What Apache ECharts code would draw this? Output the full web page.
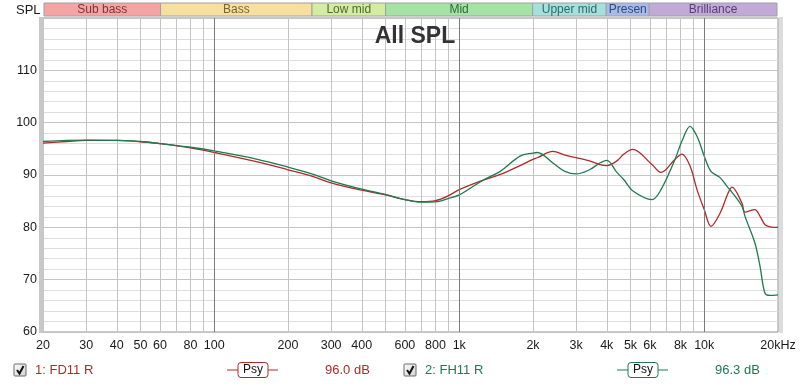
<!DOCTYPE html>
<html><head><meta charset="utf-8">
<script src="https://cdn.jsdelivr.net/npm/echarts@6/dist/echarts.min.js"></script>
<style>html,body{margin:0;padding:0;background:#fff}#c{width:800px;height:384px}</style>
</head><body><div id="c"></div>
<script>
// ---- data ----
const freqs = [20,25,30,40,50,60,80,100,150,200,250,300,400,500,600,700,800,900,1000,1250,1470,1770,2000,2080,2410,2700,3000,3400,3750,4000,4400,4700,5100,6120,6660,7600,8110,8750,9340,10000,10650,11600,12500,12980,14260,14670,16100,16900,17700,18540,20000];
const fd11 = [96.1,96.4,96.6,96.6,96.35,96.0,95.2,94.3,92.5,91.0,89.8,88.5,87.1,86.2,85.3,84.9,85.1,86.0,87.2,89.0,90.1,91.8,93.0,93.3,94.5,93.8,93.3,92.7,92.0,91.8,92.7,94.0,94.9,92.0,90.5,93.0,94.0,91.7,87.2,83.4,80.2,82.7,86.5,87.7,84.6,82.9,83.4,82.1,80.5,80.1,80.0];
const fh11 = [96.4,96.6,96.65,96.6,96.4,96.0,95.3,94.6,93.0,91.5,90.2,88.9,87.3,86.3,85.3,84.8,84.85,85.5,86.2,89.0,90.7,93.6,94.2,94.3,92.3,90.7,90.2,91.0,92.3,92.8,90.5,89.1,87.0,85.3,87.2,93.0,96.5,99.3,97.4,93.6,90.7,89.5,87.6,86.7,84.0,82.1,77.0,72.5,67.4,67.0,67.1];
const xLabelFreqs = [20,30,40,50,60,80,100,200,300,400,600,800,1000,2000,3000,4000,5000,6000,8000,10000,20000];
const xLabelTexts = ['20','30','40','50','60','80','100','200','300','400','600','800','1k','2k','3k','4k','5k','6k','8k','10k','20kHz'];
const xGridFreqs = [20,30,40,50,60,70,80,90,100,200,300,400,500,600,700,800,900,1000,2000,3000,4000,5000,6000,7000,8000,9000,10000,20000];
const majorGridFreqs = [100,1000,10000];
const bandNames = ['Sub bass','Bass','Low mid','Mid','Upper mid','Presen','Brilliance'];
const bandEdges = [20,60,250,500,2000,4000,6000,20000];
const yMin = 60, yMax = 120, yStep = 10;
const seriesNames = ['1: FD11 R','2: FH11 R'];
const seriesLevels = ['96.0 dB','96.3 dB'];

// ---- styles ----
const bandFills = ['#f7a3a3','#f7dfa0','#d3eca2','#a5e2a5','#a5e0dc','#a8bbe8','#c2aad6'];
const bandTextColors = ['#7a3434','#7a6430','#4e6a2e','#2e6a3a','#2e6a68','#33497e','#56407a'];
const redC = '#b02a2a', greenC = '#1f7a4f';
const FONT = '"Liberation Sans", Arial, sans-serif';

const L = Math.log10;
const toPts = arr => freqs.map((f, i) => [L(f), arr[i]]);

function xFmt(v) {
  for (let i = 0; i < xLabelFreqs.length; i++) if (Math.abs(L(xLabelFreqs[i]) - v) < 1e-6) return xLabelTexts[i];
  return '';
}

const chart = echarts.init(document.getElementById('c'), null, {renderer: 'canvas'});

const bandData = bandNames.map((n, i) => [L(bandEdges[i]), L(bandEdges[i + 1]), i]);

function legendItem(x0, idx, color) {
  const y = 370;
  return [
    {type: 'rect', shape: {x: x0, y: y - 6, width: 12, height: 12, r: 1},
     style: {fill: new echarts.graphic.LinearGradient(0, 0, 1, 1, [{offset: 0, color: '#ffffff'}, {offset: 1, color: '#d0d0d0'}]), stroke: '#6a6a6a', lineWidth: 1}},
    {type: 'polyline', shape: {points: [[x0 + 3, y], [x0 + 5.5, y + 3.5], [x0 + 9.5, y - 4]]},
     style: {stroke: '#111', lineWidth: 2, fill: null}},
    {type: 'text', x: x0 + 21, y: y, style: {text: seriesNames[idx], fill: color, font: '13px ' + FONT, verticalAlign: 'middle'}},
  ];
}
function psyItem(x0, idx, color, lvlX) {
  const y = 370;
  return [
    {type: 'line', shape: {x1: x0, y1: y, x2: x0 + 51, y2: y}, style: {stroke: color, lineWidth: 1}},
    {type: 'rect', shape: {x: x0 + 11, y: y - 7.5, width: 30, height: 15, r: 3}, style: {fill: '#fff', stroke: color, lineWidth: 1}},
    {type: 'text', x: x0 + 26, y: y, style: {text: 'Psy', fill: '#111', font: '12px ' + FONT, align: 'center', verticalAlign: 'middle'}},
    {type: 'text', x: lvlX, y: y, style: {text: seriesLevels[idx], fill: color, font: '13px ' + FONT, verticalAlign: 'middle'}},
  ];
}

const option = {
  backgroundColor: '#ffffff',
  animation: false,
  title: {
    text: 'All SPL', left: 410, top: 20, textAlign: 'center',
    textStyle: {fontFamily: FONT, fontSize: 23, fontWeight: 'bold', color: '#333'}
  },
  grid: [
    {left: 43, right: 22, top: 18, bottom: 52, show: true, backgroundColor: '#fff', borderColor: '#909090', borderWidth: 1},
    {left: 44, right: 23, top: 3, height: 13, show: false}
  ],
  xAxis: [
    {
      type: 'value', gridIndex: 0, min: L(20), max: L(20000),
      axisLine: {show: false}, 
      axisTick: {show: false, customValues: xGridFreqs.map(L)},
      axisLabel: {customValues: xLabelFreqs.map(L), formatter: xFmt, color: '#1a1a1a', fontFamily: FONT, fontSize: 12.5, margin: 7, showMinLabel: true, showMaxLabel: true, hideOverlap: false},
      splitLine: {show: true, lineStyle: {color: '#c4c4c4', width: 1}}
    },
    {type: 'value', gridIndex: 1, min: L(20), max: L(20000), show: false, splitLine: {show: false}}
  ],
  yAxis: [
    {
      type: 'value', gridIndex: 0, min: yMin, max: yMax, interval: yStep,
      axisLine: {show: false}, axisTick: {show: false},
      axisLabel: {color: '#1a1a1a', fontFamily: FONT, fontSize: 12.5, margin: 6, formatter: v => (v >= yMax ? '' : String(v))},
      splitLine: {show: true, lineStyle: {color: '#c4c4c4'}},
      minorTick: {show: false, splitNumber: 5},
      minorSplitLine: {show: true, lineStyle: {color: '#dedede'}}
    },
    {type: 'value', gridIndex: 1, min: 0, max: 1, show: false, splitLine: {show: false}}
  ],
  series: [
    {
      type: 'custom', xAxisIndex: 1, yAxisIndex: 1, silent: true,
      data: bandData,
      renderItem: function (params, api) {
        const p0 = api.coord([api.value(0), 1]);
        const p1 = api.coord([api.value(1), 0]);
        const i = api.value(2);
        return {
          type: 'group',
          children: [
            {type: 'rect', shape: {x: p0[0], y: p0[1], width: p1[0] - p0[0], height: p1[1] - p0[1]},
             style: {fill: bandFills[i], stroke: '#a0a0a0', lineWidth: 1}},
            {type: 'text', x: (p0[0] + p1[0]) / 2, y: (p0[1] + p1[1]) / 2 + 0.5,
             style: {text: bandNames[i], fill: bandTextColors[i], font: '12px ' + FONT, align: 'center', verticalAlign: 'middle'}}
          ]
        };
      }
    },
    {
      name: 'grid-major', type: 'line', data: [], silent: true,
      markLine: {silent: true, symbol: ['none', 'none'], label: {show: false},
        lineStyle: {color: '#7c7c7c', type: 'solid', width: 1},
        data: majorGridFreqs.map(f => ({xAxis: L(f)}))}
    },
    {name: 'FD11 R', type: 'line', data: toPts(fd11), showSymbol: false, smooth: 0.35,
     lineStyle: {color: redC, width: 1.3}, z: 3},
    {name: 'FH11 R', type: 'line', data: toPts(fh11), showSymbol: false, smooth: 0.35,
     lineStyle: {color: greenC, width: 1.3}, z: 4}
  ],
  graphic: [
    {type: 'text', x: 16, y: 10, style: {text: 'SPL', fill: '#1a1a1a', font: '13px ' + FONT, verticalAlign: 'middle'}},
    {type: 'rect', shape: {x: 39, y: 17, width: 4, height: 316}, style: {fill: '#c8c8c8'}},
    {type: 'rect', shape: {x: 779, y: 17, width: 4, height: 316}, style: {fill: '#dcdcdc'}},
    ...legendItem(14, 0, redC),
    ...psyItem(227, 0, redC, 325),
    ...legendItem(404, 1, greenC),
    ...psyItem(617, 1, greenC, 715)
  ]
};
chart.setOption(option);
</script>
</body></html>
